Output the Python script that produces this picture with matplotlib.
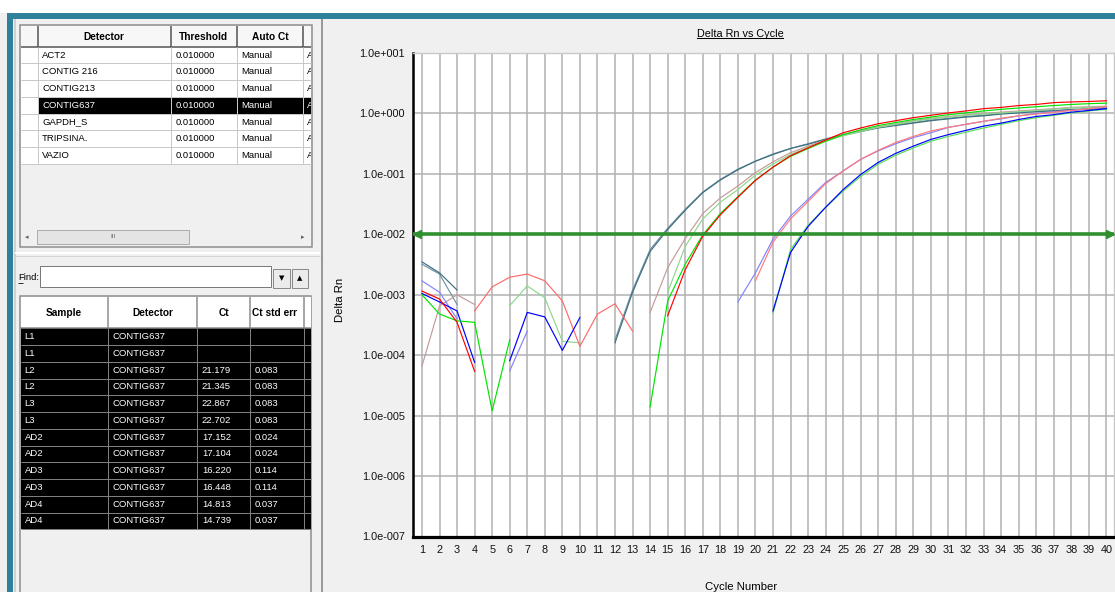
import numpy as np
import matplotlib
matplotlib.use('Agg')
import matplotlib.pyplot as plt
from matplotlib import font_manager
from matplotlib.patches import Rectangle
from matplotlib.lines import Line2D
from matplotlib.transforms import Bbox
from matplotlib.ticker import NullLocator

W, H = 1115, 592

names = {f.name for f in font_manager.fontManager.ttflist}
if 'Liberation Sans Narrow' in names:
    TFONT, TSIZE, HSIZE, HW = 'Liberation Sans Narrow', 7.8, 8.4, 'bold'
else:
    TFONT, TSIZE, HSIZE, HW = 'Liberation Sans', 6.8, 7.3, 'bold'
plt.rcParams['font.family'] = ['Liberation Sans', 'DejaVu Sans']

# ---- data ----
cycles = list(range(1, 41))
threshold = 0.01

N = None
teal_a = [3.5e-3, 2.3e-3, 1.2e-3, N, N, N, N, N, N, N, N, 1.6e-4, 1.1e-3, 5.2e-3,
          0.012, 0.025, 0.049, 0.079, 0.117, 0.162, 0.209, 0.263, 0.309, 0.372, 0.437,
          0.501, 0.575, 0.631, 0.692, 0.759, 0.813, 0.871, 0.912, 0.977, 1.02, 1.07,
          1.10, 1.15, 1.17, 1.20]
teal_b = [3.2e-3, 2.2e-3, 6.9e-4, N, N, N, N, N, N, N, N, 1.8e-4, 1.2e-3, 5.6e-3,
          0.0126, 0.026, 0.050, 0.081, 0.120, 0.162, 0.214, 0.263, 0.316, 0.380, 0.447,
          0.513, 0.589, 0.646, 0.708, 0.776, 0.832, 0.891, 0.933, 1.00, 1.05, 1.10,
          1.12, 1.17, 1.20, 1.23]
rosy = [6.6e-5, 6.5e-4, 1.0e-3, 6.9e-4, N, N, N, N, N, N, N, N, N, 5.1e-4,
        2.8e-3, 8.5e-3, 0.022, 0.040, 0.063, 0.105, 0.158, 0.224, 0.288, 0.363, 0.437,
        0.513, 0.600, 0.676, 0.759, 0.832, 0.891, 0.955, 1.00, 1.05, 1.10, 1.15,
        1.20, 1.26, 1.29, 1.32]
pale_green = [N, N, N, N, N, 6.6e-4, 1.4e-3, 8.9e-4, 1.7e-4, 1.6e-4, N, N, N, N,
              1.1e-3, 6.3e-3, 0.018, 0.034, 0.055, 0.0955, 0.145, 0.209, 0.275, 0.347,
              0.427, 0.501, 0.589, 0.661, 0.741, 0.813, 0.871, 0.933, 0.977, 1.02, 1.07,
              1.12, 1.17, 1.23, 1.26, 1.29]
red = [1.15e-3, 8.5e-4, 3.5e-4, 5.4e-5, N, N, N, N, N, N, N, N, N, N,
       4.5e-4, 2.6e-3, 9.3e-3, 0.021, 0.041, 0.078, 0.129, 0.200, 0.269, 0.363, 0.479,
       0.575, 0.676, 0.759, 0.851, 0.933, 1.02, 1.10, 1.20, 1.26, 1.35, 1.41,
       1.51, 1.55, 1.58, 1.62]
green = [1.0e-3, 4.8e-4, 3.7e-4, 3.5e-4, 1.2e-5, 1.8e-4, N, N, N, N, N, N, N, 1.4e-5,
         7.9e-4, 3.2e-3, 9.8e-3, 0.022, 0.042, 0.079, 0.129, 0.195, 0.263, 0.347, 0.447,
         0.537, 0.631, 0.708, 0.794, 0.871, 0.955, 1.02, 1.10, 1.17, 1.23, 1.29,
         1.35, 1.41, 1.45, 1.48]
pale_blue = [1.7e-3, 1.1e-3, 4.0e-4, N, N, 5.5e-5, 2.5e-4, N, N, N, N, N, N, N,
             N, N, N, N, 7.6e-4, 2.3e-3, 8.3e-3, 0.020, 0.038, 0.072, 0.112, 0.174,
             0.240, 0.316, 0.398, 0.479, 0.589, 0.661, 0.741, 0.813, 0.912, 1.00,
             1.07, 1.12, 1.20, 1.26]
pale_red = [N, N, N, N, N, N, N, N, N, N, N, N, N, N, N, N, N, N, N,
            1.7e-3, 7.4e-3, 0.018, 0.035, 0.069, 0.112, 0.174, 0.245, 0.331, 0.417,
            0.513, 0.589, 0.661, 0.741, 0.832, 0.912, 0.977, 1.05, 1.12, 1.20, 1.29]
blue = [1.05e-3, 7.6e-4, 5.4e-4, 7.6e-5, N, 8.1e-5, 5.1e-4, 4.3e-4, 1.2e-4, 4.2e-4,
        N, N, N, N, N, N, N, N, N, N,
        5.4e-4, 5.0e-3, 0.0135, 0.028, 0.055, 0.098, 0.155, 0.219, 0.288, 0.372,
        0.447, 0.525, 0.617, 0.692, 0.794, 0.891, 0.955, 1.05, 1.12, 1.20]
light_green = [N, N, N, N, N, N, N, N, N, N, N, N, N, N, N, N, N, N, N, N,
               5.0e-4, 5.6e-3, 0.0141, 0.028, 0.052, 0.091, 0.145, 0.204, 0.269, 0.347,
               0.417, 0.490, 0.575, 0.661, 0.759, 0.851, 0.933, 1.02, 1.10, 1.17]
salmon = [N, N, N, 5.4e-4, 1.35e-3, 1.95e-3, 2.2e-3, 1.7e-3, 7.9e-4, 1.4e-4,
          4.8e-4, 7.1e-4, 2.5e-4, N, N, N, N, N, N, N, N, N, N, N, N, N, N,
          N, N, N, N, N, N, N, N, N, N, N, N, N]

detectors = ['ACT2', 'CONTIG 216', 'CONTIG213', 'CONTIG637', 'GAPDH_S', 'TRIPSINA.', 'VAZIO']
det_threshold = ['0.010000'] * 7
det_auto = ['Manual'] * 7
selected = 3

samples = ['L1', 'L1', 'L2', 'L2', 'L3', 'L3', 'AD2', 'AD2', 'AD3', 'AD3', 'AD4', 'AD4']
ct = ['', '', '21.179', '21.345', '22.867', '22.702', '17.152', '17.104',
      '16.220', '16.448', '14.813', '14.739']
ct_err = ['', '', '0.083', '0.083', '0.083', '0.083', '0.024', '0.024',
          '0.114', '0.114', '0.037', '0.037']

fig = plt.figure(figsize=(W / 100, H / 100), dpi=100)
fig.patch.set_facecolor('#f0f0f0')

bg = fig.add_axes([0, 0, 1, 1], zorder=0)
bg.set_xlim(0, W)
bg.set_ylim(H, 0)
bg.axis('off')


def px(x0, y0, x1, y1):
    return [x0 / W, 1 - y1 / H, (x1 - x0) / W, (y1 - y0) / H]


def rect(x0, y0, x1, y1, fc, ec='none', lw=0.0, z=1):
    bg.add_patch(Rectangle((x0, y0), x1 - x0, y1 - y0, facecolor=fc, edgecolor=ec,
                           linewidth=lw * 0.72, zorder=z))


def line(xs, ys, c, lw=1.0, z=3):
    bg.plot(xs, ys, color=c, lw=lw * 0.72, solid_capstyle='butt', zorder=z)


def txt(x, y, s, size=TSIZE, color='black', ha='left', weight='normal', clip=None, family=None):
    t = bg.text(x, y, s, fontsize=size, color=color, ha=ha, va='center',
                fontweight=weight, family=family or TFONT, zorder=5)
    if clip is not None:
        x0, y0, x1, y1 = clip
        t.set_clip_box(Bbox.from_extents(x0, H - y1, x1, H - y0))
        t.set_clip_on(True)
    return t


# window frame
rect(0, 0, W, 13, 'white')
rect(7, 13, W, 19, '#2f819b')
rect(7, 13, 13, H, '#2f819b')
line([15, 15], [19, H], '#d0d0d0', 2)
line([321.5, 321.5], [19, H], '#9a9a9a', 2)
line([15, 320], [253, 253], 'white', 2)
line([15, 320], [256, 256], '#d4d4d4', 1)

# ---- top detector table ----
tx = [21, 37.7, 170.7, 236.7, 303.3, 311.7]
rect(20, 25, 311.7, 247, '#f0f0f0', '#8c8c8c', 1.5)
rect(21, 26, 311, 46.5, '#f7f7f7')
line([21, 311], [46.5, 46.5], '#505050', 1.5)
for xx in tx[1:-1]:
    line([xx, xx], [26, 46.5], '#505050', 1.5)
for lab, c0, c1 in zip(['Detector', 'Threshold', 'Auto Ct'], tx[1:4], tx[2:5]):
    txt((c0 + c1) / 2, 36.5, lab, size=HSIZE, ha='center', weight=HW)
rh = 16.75
for i, (d, th, au) in enumerate(zip(detectors, det_threshold, det_auto)):
    y0 = 46.7 + i * rh
    rect(21, y0, 311, y0 + rh, 'white')
    fg = 'black'
    if i == selected:
        rect(tx[1], y0, 311, y0 + rh, 'black')
        fg = 'white'
    line([21, 311], [y0 + rh, y0 + rh], '#c8c8c8', 1)
    for xx in tx[1:-1]:
        line([xx, xx], [y0, y0 + rh], '#c8c8c8', 1)
    yc = y0 + rh / 2
    txt(tx[1] + 4.5, yc, d, color=fg)
    txt(tx[2] + 4.5, yc, th, color=fg)
    txt(tx[3] + 4.5, yc, au, color=fg)
    txt(tx[4] + 3.5, yc, 'A', color=fg, clip=(tx[4], y0, 310.5, y0 + rh))
# horizontal scrollbar
txt(27, 237, '\u25c2', size=5, color='#606060', ha='center', family='DejaVu Sans')
txt(303, 237, '\u25b8', size=5, color='#606060', ha='center', family='DejaVu Sans')
rect(37, 230, 189, 243.5, '#e4e4e4', '#acacac', 1)
txt(113, 236.5, 'III', size=4.5, color='#606060', ha='center')

# ---- find box ----
txt(18, 277, 'Find:', size=TSIZE)
line([18, 23], [282.5, 282.5], 'black', 0.8, z=6)
rect(40, 266, 271, 287, 'white', '#7a7a7a', 1)
rect(273, 269, 290, 288, '#ebebeb', '#8a8a8a', 1)
rect(292, 269, 308, 288, '#ebebeb', '#8a8a8a', 1)
txt(281.5, 278.5, '\u25bc', size=5, ha='center', family='DejaVu Sans')
txt(300, 278.5, '\u25b2', size=5, ha='center', family='DejaVu Sans')

# ---- sample table ----
sx = [20, 108.3, 197.3, 250, 304, 311]
rect(19.5, 296, 311, H + 2, '#f0f0f0', '#8c8c8c', 1.5)
rect(20.5, 297, 310.5, 327.5, 'white')
line([20, 311], [327.5, 327.5], '#8c8c8c', 1.5)
for xx in sx[1:-1]:
    line([xx, xx], [297, 327.5], '#8c8c8c', 1.5)
for lab, c0, c1 in zip(['Sample', 'Detector', 'Ct'], sx[:3], sx[1:4]):
    txt((c0 + c1) / 2, 312.5, lab, size=HSIZE, ha='center', weight=HW)
txt(sx[3] + 2.5, 312.5, 'Ct std err', size=HSIZE, weight=HW, clip=(sx[3], 297, sx[4], 327))
ry0 = 328.3
for i, (s, c, e) in enumerate(zip(samples, ct, ct_err)):
    y0 = ry0 + i * rh
    rect(20.5, y0, 310.5, y0 + rh, 'black')
    line([20.5, 310.5], [y0 + rh, y0 + rh], '#7f7f7f', 1)
    for xx in sx[1:-1]:
        line([xx, xx], [y0, y0 + rh], '#7f7f7f', 1)
    yc = y0 + rh / 2
    txt(sx[0] + 4.5, yc, s, color='white')
    txt(sx[1] + 4.5, yc, 'CONTIG637', color='white')
    txt(sx[2] + 4.5, yc, c, color='white')
    txt(sx[3] + 4.5, yc, e, color='white')

# ---- amplification plot ----
ax = fig.add_axes(px(413, 53, 1114, 536.5), zorder=2)
ax.set_facecolor('white')
x = np.array(cycles)
series = [teal_b, teal_a, rosy, pale_green, salmon, pale_blue, pale_red,
          light_green, blue, green, red]
colors = ['#6f93a6', '#3d6f7f', '#c49a9a', '#8cd88c', '#ff6a6a', '#8282ff', '#ff7a7a',
          '#55e055', '#0000ff', '#00e400', '#ff0000']
for vals, col in zip(series, colors):
    ax.plot(x, np.array(vals, dtype=float), color=col, lw=0.85, zorder=3)

ax.set_yscale('log')
ax.set_ylim(1e-7, 10)
ax.set_xlim(0.49, 40.43)
x0, x1 = ax.get_xlim()
tcol = '#2e912e'
ax.plot([x0, x1], [threshold, threshold], color=tcol, lw=2.6, solid_capstyle='butt', zorder=4)
ax.plot([x0 + 0.22], [threshold], marker='<', ms=6, color=tcol, clip_on=False, zorder=4)
ax.plot([x1 - 0.22], [threshold], marker='>', ms=6, color=tcol, clip_on=False, zorder=4)

decades = list(range(-7, 2))
ax.set_yticks([10.0 ** e for e in decades])
ax.set_yticklabels(['1.0e%+04d' % e for e in decades])
ax.yaxis.set_minor_locator(NullLocator())
ax.set_xticks(cycles)
ax.set_xticklabels([str(c) for c in cycles])
ax.tick_params(length=0, labelsize=7.8, pad=6, colors='#111111')
ax.grid(True, which='major', color='#b2b2b2', lw=1.1)
ax.set_axisbelow(True)
for side in ['top', 'right']:
    ax.spines[side].set_color('#c8c8c8')
    ax.spines[side].set_linewidth(1.0)
ax.spines['left'].set_color('black')
ax.spines['left'].set_linewidth(1.8)
ax.spines['bottom'].set_color('black')
ax.spines['bottom'].set_linewidth(2.3)

fig.text(340 / W, 1 - 300 / H, 'Delta Rn', rotation=90, ha='center', va='center', size=8.2)
fig.text(741 / W, 1 - 587 / H, 'Cycle Number', ha='center', va='center', size=8.2)
title = fig.text(740 / W, 1 - 34 / H, 'Delta Rn vs Cycle', ha='center', va='center', size=7.8)

fig.canvas.draw()
bb = title.get_window_extent()
uy = (bb.y0 + 1.2) / H
fig.add_artist(Line2D([bb.x0 / W, bb.x1 / W], [uy, uy], transform=fig.transFigure,
                      color='black', lw=0.75))

fig.savefig('out.png', dpi=100, facecolor=fig.get_facecolor())
